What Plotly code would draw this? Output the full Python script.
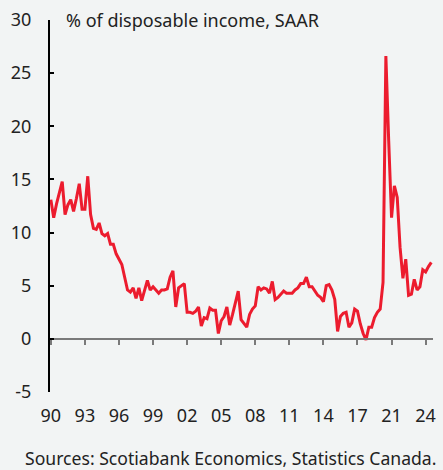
import plotly.graph_objects as go

# Quarterly personal savings rate, % of disposable income, SAAR (index 0 = first quarter shown)
savings_rate = [
    13.1, 11.4, 12.7, 13.7, 14.8, 11.7, 12.6, 13.1, 12.0, 13.2,
    14.6, 12.2, 12.2, 15.3, 11.7, 10.4, 10.3, 10.9, 9.9, 9.7,
    9.9, 8.9, 8.9, 8.0, 7.5, 7.0, 5.8, 4.6, 4.4, 4.8,
    3.8, 4.8, 3.6, 4.6, 5.5, 4.6, 4.9, 4.6, 4.3, 4.6,
    4.6, 4.7, 5.8, 6.4, 3.0, 4.8, 5.0, 5.2, 2.5, 2.5,
    2.4, 2.6, 3.0, 1.2, 2.0, 1.9, 2.9, 2.7, 2.7, 0.5,
    1.7, 2.1, 3.0, 1.3, 2.3, 3.4, 4.5, 1.8, 1.5, 1.1,
    2.3, 2.8, 3.1, 4.9, 4.6, 4.8, 4.7, 4.3, 5.4, 3.7,
    3.9, 4.2, 4.5, 4.3, 4.3, 4.3, 4.6, 4.8, 5.2, 5.2,
    5.8, 4.9, 4.9, 4.5, 4.1, 3.9, 3.5, 5.0, 5.1, 4.6,
    3.7, 0.7, 2.1, 2.4, 2.5, 1.1, 1.5, 2.8, 2.6, 1.4,
    0.5, -0.1, 1.1, 1.1, 2.0, 2.5, 2.8, 5.3, 26.6, 18.6,
    11.4, 14.4, 13.3, 8.6, 5.7, 7.5, 4.1, 4.2, 5.6, 4.6,
    4.9, 6.5, 6.3, 6.8, 7.2,
]
quarter_index = list(range(len(savings_rate)))

tick_positions = [0, 12, 24, 36, 48, 60, 72, 84, 96, 108, 120, 132]
tick_labels = ["90", "93", "96", "99", "02", "05", "08", "11", "14", "17", "21", "24"]
y_ticks = [-5, 0, 5, 10, 15, 20, 25, 30]
y_tick_labels = ["-5", "0", "5", "10", "15", "20", "25", "30"]

FONT = "Noto Sans"
BG = "#F2F4F4"
RED = "#EC1C2E"
TXT = "#222222"

fig = go.Figure()
fig.add_trace(go.Scatter(
    x=quarter_index, y=savings_rate, mode="lines",
    line=dict(color=RED, width=3), hoverinfo="skip", showlegend=False,
))
# invisible trace to activate the zero-line axis
fig.add_trace(go.Scatter(x=[0], y=[0], xaxis="x2", mode="markers",
                         marker=dict(opacity=0), showlegend=False, hoverinfo="skip"))

xr = [-0.3, 134.6]
fig.update_layout(
    width=443, height=470,
    margin=dict(l=50, r=7, t=17, b=78),
    paper_bgcolor=BG, plot_bgcolor=BG,
    font=dict(family=FONT, size=18, color=TXT),
    xaxis=dict(
        range=xr, tickmode="array", tickvals=tick_positions, ticktext=tick_labels,
        showline=False, showgrid=False, zeroline=False, ticks="",
        ticklabelstandoff=11, tickfont=dict(size=18, color=TXT),
    ),
    xaxis2=dict(
        range=xr, overlaying="x", anchor="free", position=5 / 35,
        tickmode="array", tickvals=tick_positions, showticklabels=False,
        showline=True, linecolor="#7A7A7A", linewidth=2,
        ticks="outside", ticklen=5, tickwidth=2, tickcolor="#7A7A7A",
        showgrid=False, zeroline=False,
    ),
    yaxis=dict(
        range=[-5, 30], tickmode="array", tickvals=y_ticks, ticktext=y_tick_labels,
        showline=True, linecolor="black", linewidth=2,
        ticks="inside", ticklen=4, tickwidth=2, tickcolor="black",
        showgrid=False, zeroline=False, ticklabelstandoff=13,
        tickfont=dict(size=18, color=TXT),
    ),
    annotations=[
        dict(text="% of disposable income, SAAR", xref="paper", yref="paper",
             x=0.037, y=1.0, xanchor="left", yanchor="middle", showarrow=False,
             font=dict(size=18, color=TXT, family=FONT)),
        dict(text="Sources: Scotiabank Economics, Statistics Canada.", xref="paper", yref="paper",
             x=1.012, y=-0.178, xanchor="right", yanchor="middle", showarrow=False,
             font=dict(size=17.6, color=TXT, family=FONT)),
    ],
)

fig.write_html("out.html", config={"displayModeBar": False},
               post_script="document.body.style.margin='0';")
